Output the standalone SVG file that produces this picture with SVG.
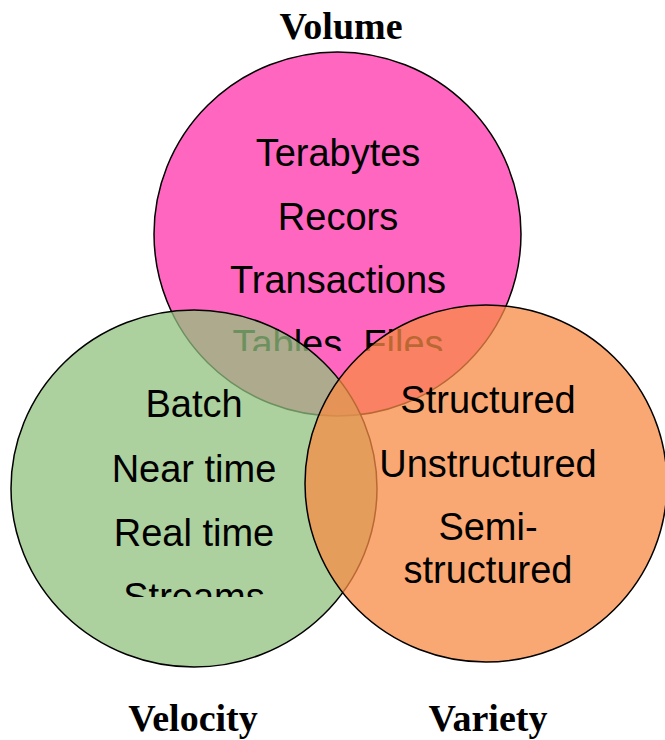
<svg xmlns="http://www.w3.org/2000/svg" width="665" height="740" viewBox="0 0 665 740">
<style>
.c{stroke:#000;stroke-width:1.5}
.t{font-family:"Liberation Sans",Arial,sans-serif;font-size:38px;text-anchor:middle;fill:#000}
.h{font-family:"Liberation Serif","Times New Roman",serif;font-size:38px;font-weight:bold;text-anchor:middle;fill:#000}
</style>
<defs>
<clipPath id="clipPink"><rect x="150" y="50" width="380" height="301"/></clipPath>
<clipPath id="clipGreen"><rect x="0" y="300" width="400" height="297"/></clipPath>
</defs>
<rect width="665" height="740" fill="#fff"/>
<g id="volume">
<ellipse class="c" cx="337.5" cy="234" rx="183.5" ry="182" fill="#FF66C0"/>
<g clip-path="url(#clipPink)">
<text class="t" x="338" y="166">Terabytes</text>
<text class="t" x="338" y="230">Recors</text>
<text class="t" x="338" y="293">Transactions</text>
<text class="t" x="338" y="357">Tables, Files</text>
</g>
</g>
<g id="velocity">
<ellipse class="c" cx="194" cy="488.5" rx="183" ry="178.5" fill="#92C27E" fill-opacity="0.75"/>
<g clip-path="url(#clipGreen)">
<text class="t" x="194" y="417">Batch</text>
<text class="t" x="194" y="482">Near time</text>
<text class="t" x="194" y="546">Real time</text>
<text class="t" x="194" y="610">Streams</text>
</g>
</g>
<g id="variety">
<ellipse class="c" cx="486" cy="483.5" rx="181" ry="178.5" fill="#F88B44" fill-opacity="0.75"/>
<text class="t" x="488" y="413">Structured</text>
<text class="t" x="488" y="477">Unstructured</text>
<text class="t" x="488" y="540">Semi-</text>
<text class="t" x="488" y="583">structured</text>
</g>
<g id="labels">
<text class="h" x="341" y="39">Volume</text>
<text class="h" x="193" y="731">Velocity</text>
<text class="h" x="488" y="731">Variety</text>
</g>
<g id="connectors"/>
</svg>
